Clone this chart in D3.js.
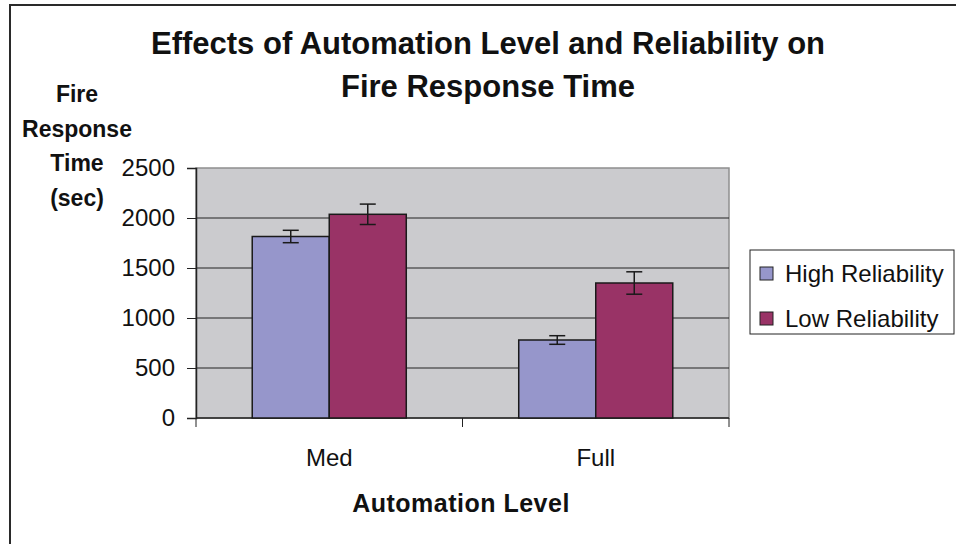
<!DOCTYPE html>
<html lang="en">
<head>
  <meta charset="utf-8">
  <title>Fire Response Time</title>
  <script type="text/javascript" src="https://cdn.jsdelivr.net/npm/d3@7"></script>
  <style>
    body { margin: 0; background: #fff; }
    text { font-family: "Liberation Sans", Arial, sans-serif; fill: #111; }
  </style>
</head>
<body>
  <script type="text/javascript">

  // data
  var levels = ["Med", "Full"]
  var series = ["High Reliability", "Low Reliability"]
  var highMeans = [1815, 780]
  var lowMeans = [2037, 1350]
  var highErr = [62, 43]
  var lowErr = [102, 112]
  var yTicks = [0, 500, 1000, 1500, 2000, 2500]
  var colors = ["#9696cb", "#993366"]

  var width = 956
  var height = 544
  var plot = {left: 196, right: 729, top: 168, bottom: 418}

  var svg = d3.select("body")
    .append("svg")
    .attr("width", width)
    .attr("height", height);

  // outer chart border
  svg.append("path")
    .attr("d", "M10," + height + "V5H" + width)
    .attr("fill", "none")
    .attr("stroke", "#2a2a2a")
    .attr("stroke-width", 2);

  var x0 = d3.scaleBand()
    .domain(levels)
    .range([plot.left, plot.right])
    .paddingInner(0.422)
    .paddingOuter(0.211);

  var x1 = d3.scaleBand()
    .domain(series)
    .range([0, x0.bandwidth()]);

  var y = d3.scaleLinear()
    .domain([0, 2500])
    .range([plot.bottom, plot.top]);

  // plot background
  svg.append("rect")
    .attr("x", plot.left)
    .attr("y", plot.top)
    .attr("width", plot.right - plot.left)
    .attr("height", plot.bottom - plot.top)
    .attr("fill", "#cbcbce")
    .attr("stroke", "#8f8f8f")
    .attr("stroke-width", 1.5);

  // gridlines
  svg.append("g")
    .selectAll("line")
    .data(yTicks.filter(d => d > 0 && d < 2500))
    .enter().append("line")
    .attr("x1", plot.left)
    .attr("x2", plot.right)
    .attr("y1", d => y(d))
    .attr("y2", d => y(d))
    .attr("stroke", "#222")
    .attr("stroke-width", 1);

  // y axis
  var yAxis = svg.append("g")
    .attr("transform", "translate(" + plot.left + ",0)")
    .call(d3.axisLeft(y).tickValues(yTicks).tickFormat(d3.format("d")).tickSize(9).tickPadding(12));
  yAxis.select(".domain").attr("stroke", "#222").attr("stroke-width", 1.5);
  yAxis.selectAll(".tick line").attr("stroke", "#222");
  yAxis.selectAll("text")
    .style("font-family", "'Liberation Sans', Arial, sans-serif")
    .style("font-size", "24px")
    .attr("fill", "#111");

  // x axis
  var xTickPos = [plot.left, (plot.left + plot.right) / 2, plot.right]
  var xAxis = svg.append("g")
    .attr("transform", "translate(0," + plot.bottom + ")");
  xAxis.append("line")
    .attr("x1", plot.left).attr("x2", plot.right)
    .attr("stroke", "#222").attr("stroke-width", 1.5);
  xAxis.selectAll(".xt")
    .data(xTickPos)
    .enter().append("line")
    .attr("class", "xt")
    .attr("x1", d => d).attr("x2", d => d)
    .attr("y1", 0).attr("y2", 9)
    .attr("stroke", "#222");
  xAxis.selectAll("text")
    .data(levels)
    .enter().append("text")
    .attr("x", d => x0(d) + x0.bandwidth() / 2)
    .attr("y", 48)
    .attr("text-anchor", "middle")
    .style("font-size", "24px")
    .text(d => d);

  // bars
  var rows = levels.map(function(l, i) {
    return {
      level: l,
      values: [
        {s: series[0], v: highMeans[i], e: highErr[i], c: colors[0]},
        {s: series[1], v: lowMeans[i], e: lowErr[i], c: colors[1]}
      ]
    }
  });

  var groups = svg.append("g")
    .selectAll("g")
    .data(rows)
    .enter().append("g")
    .attr("transform", d => "translate(" + x0(d.level) + ",0)");

  groups.selectAll("rect")
    .data(d => d.values)
    .enter().append("rect")
    .attr("x", d => x1(d.s))
    .attr("y", d => y(d.v))
    .attr("width", x1.bandwidth())
    .attr("height", d => plot.bottom - y(d.v))
    .attr("fill", d => d.c)
    .attr("stroke", "#1a1a1a")
    .attr("stroke-width", 1.5);

  // error bars
  var eb = groups.selectAll(".err")
    .data(d => d.values)
    .enter().append("g")
    .attr("class", "err")
    .attr("stroke", "#1a1a1a")
    .attr("stroke-width", 1.5);
  eb.append("line")
    .attr("x1", d => x1(d.s) + x1.bandwidth() / 2)
    .attr("x2", d => x1(d.s) + x1.bandwidth() / 2)
    .attr("y1", d => y(d.v + d.e))
    .attr("y2", d => y(d.v - d.e));
  [1, -1].forEach(function(sign) {
    eb.append("line")
      .attr("x1", d => x1(d.s) + x1.bandwidth() / 2 - 8)
      .attr("x2", d => x1(d.s) + x1.bandwidth() / 2 + 8)
      .attr("y1", d => y(d.v + sign * d.e))
      .attr("y2", d => y(d.v + sign * d.e));
  });

  // title
  var title = svg.append("text")
    .attr("text-anchor", "middle")
    .style("font-size", "31px")
    .style("font-weight", "bold");
  title.append("tspan").attr("x", 488).attr("y", 54).text("Effects of Automation Level and Reliability on");
  title.append("tspan").attr("x", 488).attr("y", 97).text("Fire Response Time");

  // y axis title, stacked lines
  var yLines = ["Fire", "Response", "Time", "(sec)"]
  svg.append("g")
    .selectAll("text")
    .data(yLines)
    .enter().append("text")
    .attr("x", 77)
    .attr("y", (d, i) => 102 + i * 34.5)
    .attr("text-anchor", "middle")
    .style("font-size", "23px")
    .style("font-weight", "bold")
    .text(d => d);

  // x axis title
  svg.append("text")
    .attr("x", 461)
    .attr("y", 512)
    .attr("text-anchor", "middle")
    .style("font-size", "25px")
    .style("font-weight", "bold")
    .style("letter-spacing", "0.5px")
    .text("Automation Level");

  // legend
  var legend = svg.append("g");
  legend.append("rect")
    .attr("x", 750).attr("y", 250)
    .attr("width", 204).attr("height", 84)
    .attr("fill", "#fff")
    .attr("stroke", "#222")
    .attr("stroke-width", 1);
  var item = legend.selectAll(".item")
    .data(series)
    .enter().append("g")
    .attr("class", "item")
    .attr("transform", (d, i) => "translate(760," + (273 + i * 45) + ")");
  item.append("rect")
    .attr("x", 0).attr("y", -6)
    .attr("width", 13).attr("height", 13)
    .attr("fill", (d, i) => colors[i])
    .attr("stroke", "#222")
    .attr("stroke-width", 1);
  item.append("text")
    .attr("x", 25)
    .attr("y", 9)
    .style("font-size", "24px")
    .text(d => d);

  </script>
</body>
</html>
